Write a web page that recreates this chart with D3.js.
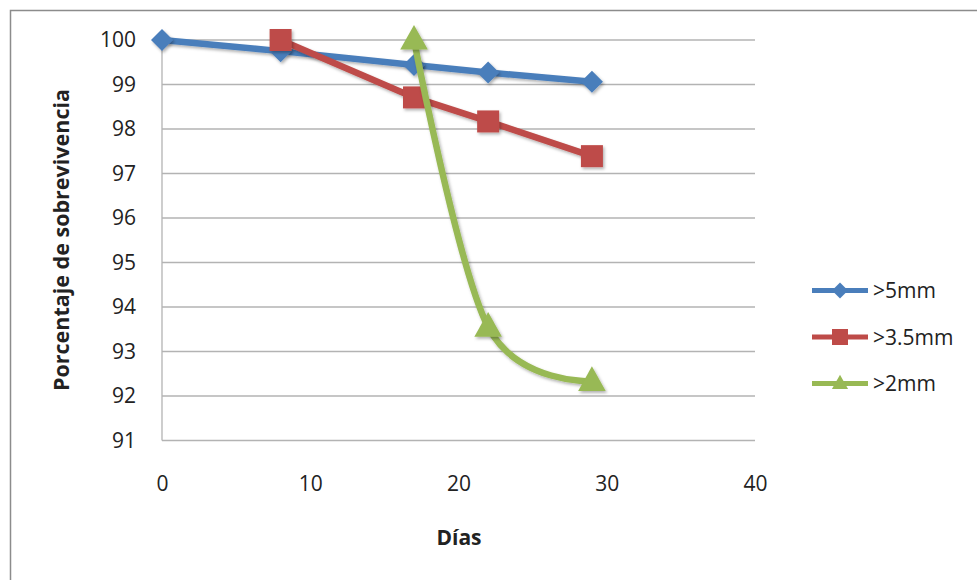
<!DOCTYPE html>
<html><head><meta charset="utf-8">
<script src="https://cdn.jsdelivr.net/npm/d3@7/dist/d3.min.js"></script>
<style>body{margin:0;background:#fff}svg{display:block}text{font-family:"Open Sans","Noto Sans",sans-serif;fill:#222}</style>
</head><body><svg id="c" width="977" height="580"></svg>
<script>
const seriesNames = [">5mm", ">3.5mm", ">2mm"];
const seriesColors = ["#4a7ebb", "#be4b48", "#98b954"];
const seriesShapes = ["diamond", "square", "triangle"];
const days5 = [0, 8, 17, 22, 29];
const vals5 = [100, 99.75, 99.44, 99.27, 99.06];
const days35 = [8, 17, 22, 29];
const vals35 = [100, 98.71, 98.17, 97.39];
const days2 = [17, 22, 29];
const vals2 = [100, 93.55, 92.33];
const xTicks = [0, 10, 20, 30, 40];
const yTicks = [91, 92, 93, 94, 95, 96, 97, 98, 99, 100];
const xTitle = "Días";
const yTitle = "Porcentaje de sobrevivencia";

const FONT = "'Open Sans','Noto Sans',sans-serif";
const svg = d3.select("#c");
svg.append("rect").attr("x",10.5).attr("y",10.5).attr("width",975).attr("height",580).attr("fill","none").attr("stroke","#8c8c8c").attr("stroke-width",1.5);

const x = d3.scaleLinear().domain([0,40]).range([162,755]);
const y = d3.scaleLinear().domain([91,100]).range([440.5,40]);

svg.append("g").selectAll("line").data(yTicks).join("line")
  .attr("x1",x(0)).attr("x2",x(40)).attr("y1",d=>y(d)).attr("y2",d=>y(d))
  .attr("stroke","#b3b3b3").attr("stroke-width",1.3);
svg.append("line").attr("x1",x(0)).attr("x2",x(0)).attr("y1",y(100)).attr("y2",y(91)).attr("stroke","#b3b3b3").attr("stroke-width",1.3);

const yAxis = svg.append("g").attr("transform",`translate(${x(0)-18},0)`)
  .call(d3.axisLeft(y).tickValues(yTicks).tickSize(0).tickPadding(8).tickFormat(d3.format("d")));
yAxis.select(".domain").remove();
yAxis.selectAll("text").attr("font-size",21).style("font-family",FONT).attr("fill","#222");

const xAxis = svg.append("g").attr("transform",`translate(0,${y(91)+28})`)
  .call(d3.axisBottom(x).tickValues(xTicks).tickSize(0).tickPadding(8).tickFormat(d3.format("d")));
xAxis.select(".domain").remove();
xAxis.selectAll("text").attr("font-size",21).style("font-family",FONT).attr("fill","#222");

svg.append("text").attr("x",459).attr("y",545).attr("text-anchor","middle").attr("font-size",21).attr("font-weight","bold").text(xTitle);
svg.append("text").attr("transform","translate(69,240) rotate(-90)").attr("text-anchor","middle").attr("font-size",21.5).attr("font-weight","bold").text(yTitle);

const defs = svg.append("defs");
const f = defs.append("filter").attr("id","sh").attr("x","-30%").attr("y","-30%").attr("width","160%").attr("height","160%");
f.append("feDropShadow").attr("dx",1.5).attr("dy",2).attr("stdDeviation",1.5).attr("flood-color","#000").attr("flood-opacity",0.3);

function shapePath(shape, cx, cy, s){
  if(shape==="diamond") return `M${cx},${cy-s}L${cx+s},${cy}L${cx},${cy+s}L${cx-s},${cy}Z`;
  if(shape==="square") return `M${cx-s},${cy-s}h${2*s}v${2*s}h${-2*s}Z`;
  return `M${cx},${cy-s*1.25}L${cx+s*1.15},${cy+s*0.8}L${cx-s*1.15},${cy+s*0.8}Z`;
}

const data = [
  {d:days5, v:vals5, curve:d3.curveLinear},
  {d:days35, v:vals35, curve:d3.curveLinear},
  {d:days2, v:vals2, curve:d3.curveCatmullRom.alpha(0)}
];
data.forEach((s,i)=>{
  const pts = s.d.map((d,k)=>[d,s.v[k]]);
  const line = d3.line().x(p=>x(p[0])).y(p=>y(p[1])).curve(s.curve);
  const g = svg.append("g");
  g.append("path").attr("d",line(pts)).attr("fill","none").attr("stroke",seriesColors[i]).attr("stroke-width",6.5).attr("stroke-linejoin","round").attr("filter","url(#sh)");
  g.selectAll("path.m").data(pts).join("path").attr("class","m")
    .attr("d",p=>shapePath(seriesShapes[i],x(p[0]),y(p[1]),seriesShapes[i]==="triangle"?12:11))
    .attr("fill",seriesColors[i]).attr("filter","url(#sh)");
});

const leg = svg.append("g");
seriesNames.forEach((n,i)=>{
  const ly = 290.5 + i*46.5;
  leg.append("line").attr("x1",812).attr("x2",868).attr("y1",ly).attr("y2",ly).attr("stroke",seriesColors[i]).attr("stroke-width",5);
  leg.append("path").attr("d",shapePath(seriesShapes[i],840,ly,seriesShapes[i]==="triangle"?7:8)).attr("fill",seriesColors[i]);
  leg.append("text").attr("x",873).attr("y",ly+7.5).attr("font-size",21).text(n);
});
</script></body></html>
